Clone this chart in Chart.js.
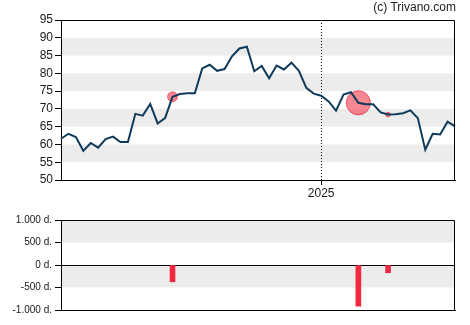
<!DOCTYPE html>
<html>
<head>
<meta charset="utf-8">
<script src="https://cdn.jsdelivr.net/npm/chart.js@4/dist/chart.umd.min.js"></script>
<style>
  html, body { margin: 0; padding: 0; background: #fff; }
  #wrap { position: relative; width: 470px; height: 325px; overflow: hidden; }
  canvas { position: absolute; left: 0; }
  #top { top: 0; }
  #bottom { top: 200px; }
  #copy { position: absolute; right: 14px; top: 0px; font: 12px 'Liberation Sans', Arial, sans-serif; color: #222; }
</style>
</head>
<body>
<div id="wrap">
  <canvas id="top" width="470" height="200"></canvas>
  <canvas id="bottom" width="470" height="125"></canvas>
  <div id="copy">(c) Trivano.com</div>
</div>
<script>
// Weekly dates (categories)
const weeks = [
  "2024-05-06","2024-05-13","2024-05-20","2024-05-27","2024-06-03","2024-06-10","2024-06-17","2024-06-24",
  "2024-07-01","2024-07-08","2024-07-15","2024-07-22","2024-07-29","2024-08-05","2024-08-12","2024-08-19",
  "2024-08-26","2024-09-02","2024-09-09","2024-09-16","2024-09-23","2024-09-30","2024-10-07","2024-10-14",
  "2024-10-21","2024-10-28","2024-11-04","2024-11-11","2024-11-18","2024-11-25","2024-12-02","2024-12-09",
  "2024-12-16","2024-12-23","2024-12-30","2025-01-06","2025-01-13","2025-01-20","2025-01-27","2025-02-03",
  "2025-02-10","2025-02-17","2025-02-24","2025-03-03","2025-03-10","2025-03-17","2025-03-24","2025-03-31",
  "2025-04-07","2025-04-14","2025-04-21","2025-04-28","2025-05-05","2025-05-12"
];

// Share price (weekly close)
const prices = [
  61.6, 63.0, 62.1, 58.2, 60.4, 59.1, 61.5, 62.2, 60.7, 60.7,
  68.6, 68.1, 71.4, 65.9, 67.4, 73.4, 74.2, 74.4, 74.4, 81.4,
  82.4, 80.7, 81.2, 84.8, 87.0, 87.5, 80.6, 82.1, 78.6, 82.2,
  81.1, 83.0, 80.7, 75.9, 74.3, 73.7, 72.1, 69.5, 74.0, 74.7,
  71.7, 71.3, 71.3, 69.0, 68.4, 68.5, 68.8, 69.6, 67.4, 58.5,
  63.0, 62.8, 66.4, 65.1
];

// Insider trades (thousand, "d.")
const trades = [
  null, null, null, null, null, null, null, null, null, null,
  null, null, null, null, null, -372, null, null, null, null,
  null, null, null, null, null, null, null, null, null, null,
  null, null, null, null, null, null, null, null, null, null,
  -914, null, null, null, -172, null, null, null, null, null,
  null, null, null, null
];

// Y tick settings
const priceTicks = [50, 55, 60, 65, 70, 75, 80, 85, 90, 95];
const tradeTicks = [-1000, -500, 0, 500, 1000];
const priceBands = [[55, 60], [65, 70], [75, 80], [85, 90]];
const tradeBands = [[-500, 0], [500, 1000]];

const FONT = "'Liberation Sans', Arial, sans-serif";
const TXT = '#1a1a1a';

function bandsPlugin(bands) {
  return {
    id: 'bands',
    beforeDraw(chart) {
      const { ctx, chartArea: a, scales: { y } } = chart;
      ctx.save();
      ctx.fillStyle = '#ececec';
      bands.forEach(([lo, hi]) => {
        const y1 = y.getPixelForValue(hi), y2 = y.getPixelForValue(lo);
        ctx.fillRect(a.left, y1, a.right - a.left, y2 - y1);
      });
      ctx.restore();
    }
  };
}
const framePlugin = {
  id: 'frame',
  afterDraw(chart) {
    const { ctx, chartArea: a } = chart;
    ctx.save();
    ctx.strokeStyle = '#000';
    ctx.lineWidth = 1;
    ctx.beginPath();
    const t = Math.round(a.top) + 0.5, r = Math.round(a.right) - 0.5;
    ctx.moveTo(a.left, t); ctx.lineTo(r, t); ctx.lineTo(r, a.bottom);
    ctx.stroke();
    ctx.restore();
  }
};

const markerPrices = trades.map((t, i) => (t === null ? null : prices[i]));

new Chart(document.getElementById('top'), {
  type: 'line',
  data: {
    labels: weeks,
    datasets: [
      {
        data: prices,
        borderColor: '#0f3a5a',
        borderWidth: 2,
        pointRadius: 0,
        tension: 0,
        order: 1
      },
      {
        data: markerPrices,
        showLine: false,
        pointRadius: ctx => Math.abs(trades[ctx.dataIndex] || 0) * 0.0132,
        pointBackgroundColor: 'rgba(242,70,88,0.65)',
        pointBorderColor: 'rgba(235,60,80,0.8)',
        pointBorderWidth: 1,
        order: 2
      }
    ]
  },
  options: {
    responsive: false,
    animation: false,
    devicePixelRatio: 1,
    layout: { padding: { top: 20, right: 15, left: 0, bottom: 0 } },
    plugins: { legend: { display: false }, tooltip: { enabled: false } },
    scales: {
      x: {
        type: 'category',
        offset: false,
        afterFit: s => { s.height = 20; },
        grid: {
          drawOnChartArea: true,
          color: ctx => (ctx.tick && weeks[ctx.index] === '2025-01-06') ? '#000' : 'rgba(0,0,0,0)',
          tickColor: ctx => (ctx.tick && weeks[ctx.index] === '2025-01-06') ? '#000' : 'rgba(0,0,0,0)',
          tickLength: 5,
          lineWidth: 1
        },
        border: { display: true, color: '#000', width: 1, dash: [1, 2] },
        ticks: {
          autoSkip: false,
          maxRotation: 0,
          padding: 1,
          color: TXT,
          font: { family: FONT, size: 12 },
          callback: (v, i) => {
            if (i === 0) return '';
            const y = weeks[i].slice(0, 4), py = weeks[i - 1].slice(0, 4);
            return y !== py ? y : '';
          }
        }
      },
      y: {
        min: 50,
        max: 95,
        afterFit: s => { s.width = 61; },
        afterBuildTicks: s => { s.ticks = priceTicks.map(v => ({ value: v })); },
        grid: { drawOnChartArea: false, tickLength: 6, tickColor: '#000' },
        border: { display: true, color: '#000', width: 1 },
        ticks: { padding: 2, color: TXT, font: { family: FONT, size: 12 } }
      }
    }
  },
  plugins: [bandsPlugin(priceBands), framePlugin]
});

function fmtThousands(v) {
  const s = Math.abs(v).toString().replace(/\B(?=(\d{3})+(?!\d))/g, '.');
  return (v < 0 ? '-' : '') + s + ' d.';
}

new Chart(document.getElementById('bottom'), {
  type: 'bar',
  data: {
    labels: weeks,
    datasets: [{
      data: trades,
      backgroundColor: '#f0293f',
      barThickness: 5
    }]
  },
  options: {
    responsive: false,
    animation: false,
    devicePixelRatio: 1,
    layout: { padding: { top: 20, right: 15, left: 0, bottom: 0 } },
    plugins: { legend: { display: false }, tooltip: { enabled: false } },
    scales: {
      x: {
        type: 'category',
        offset: false,
        afterFit: s => { s.height = 15; },
        grid: { display: false },
        border: { display: true, color: '#000', width: 1 },
        ticks: { display: false }
      },
      y: {
        min: -1000,
        max: 1000,
        afterFit: s => { s.width = 61; },
        afterBuildTicks: s => { s.ticks = tradeTicks.map(v => ({ value: v })); },
        grid: {
          drawOnChartArea: true,
          color: ctx => (ctx.tick && ctx.tick.value === 0) ? '#000' : 'rgba(0,0,0,0)',
          tickColor: '#000',
          tickLength: 6
        },
        border: { display: true, color: '#000', width: 1 },
        ticks: { padding: 3, color: TXT, font: { family: FONT, size: 10 }, callback: v => fmtThousands(v) }
      }
    }
  },
  plugins: [bandsPlugin(tradeBands), framePlugin]
});
</script>
</body>
</html>
